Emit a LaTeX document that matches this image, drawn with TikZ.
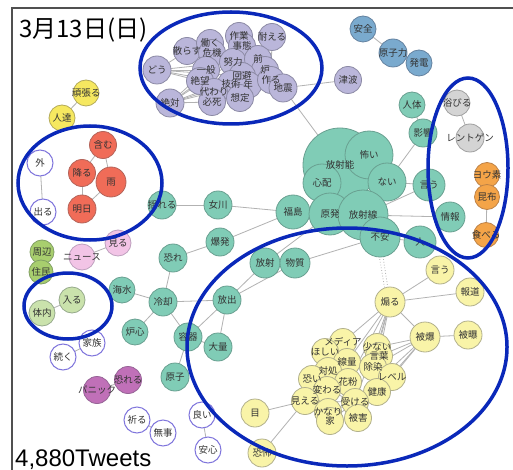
\documentclass[tikz,border=0pt]{standalone}
\usepackage{fontspec}
\setmainfont{Noto Sans CJK JP}
\newfontfamily\latinfont{Liberation Sans}
\pgfdeclarelayer{back}\pgfdeclarelayer{bg}\pgfdeclarelayer{lab}\pgfdeclarelayer{front}
\pgfsetlayers{back,bg,main,lab,front}
\definecolor{lavF}{RGB}{186,182,218}\definecolor{lavD}{RGB}{140,138,165}
\definecolor{tealF}{RGB}{128,204,182}\definecolor{tealD}{RGB}{105,160,145}
\definecolor{bluF}{RGB}{122,170,206}\definecolor{bluD}{RGB}{100,130,160}
\definecolor{grayF}{RGB}{212,212,212}\definecolor{grayD}{RGB}{160,160,160}
\definecolor{orF}{RGB}{244,164,72}\definecolor{orD}{RGB}{190,130,70}
\definecolor{yelF}{RGB}{246,232,96}\definecolor{yelD}{RGB}{180,170,90}
\definecolor{redF}{RGB}{240,108,88}\definecolor{redD}{RGB}{180,100,90}
\definecolor{whD}{RGB}{128,118,220}
\definecolor{pinkF}{RGB}{242,196,230}\definecolor{pinkD}{RGB}{190,160,190}
\definecolor{grnF}{RGB}{168,206,110}\definecolor{grnD}{RGB}{130,160,100}
\definecolor{lgrF}{RGB}{202,226,172}\definecolor{lgrD}{RGB}{150,170,140}
\definecolor{magF}{RGB}{192,112,184}\definecolor{magD}{RGB}{150,100,150}
\definecolor{crF}{RGB}{249,244,168}\definecolor{crD}{RGB}{178,176,140}
\definecolor{edgeC}{RGB}{178,178,178}
\definecolor{ringC}{RGB}{10,40,185}
\definecolor{frameC}{RGB}{80,80,80}
\tikzset{
  base/.style={circle, inner sep=0pt, line width=0.8pt},
  sLav/.style={base, fill=lavF, draw=lavD},
  sTeal/.style={base, fill=tealF, draw=tealD},
  sBlu/.style={base, fill=bluF, draw=bluD},
  sGray/.style={base, fill=grayF, draw=grayD},
  sOr/.style={base, fill=orF, draw=orD},
  sYel/.style={base, fill=yelF, draw=yelD},
  sRed/.style={base, fill=redF, draw=redD},
  sWh/.style={base, fill=white, draw=whD, line width=1pt},
  sPink/.style={base, fill=pinkF, draw=pinkD},
  sGrn/.style={base, fill=grnF, draw=grnD},
  sLgr/.style={base, fill=lgrF, draw=lgrD},
  sMag/.style={base, fill=magF, draw=magD},
  sCr/.style={base, fill=crF, draw=crD},
  lbl/.style={inner sep=0pt, text=black!80, font=\fontsize{9.5}{9.5}\selectfont},
  edge/.style={draw=edgeC, line width=0.8pt},
  dotedge/.style={draw=edgeC, line width=0.8pt, dotted},
  ring/.style={draw=ringC, line width=3.5pt},
}
\newcommand\mynode[5]{%
  \node[#1, minimum size=#4pt] (#2) at (#3) {};
  \begin{pgfonlayer}{lab}\node[lbl] at (#2.center) {#5};\end{pgfonlayer}%
}
\begin{document}
\begin{tikzpicture}[x=1pt,y=-1pt]
\useasboundingbox (0,0) rectangle (513,470);
\begin{pgfonlayer}{back}
\fill[white] (0,0) rectangle (513,470);
\draw[frameC, line width=1.3pt] (12,8) rectangle (540,500);
\end{pgfonlayer}
\node[anchor=base west, inner sep=0pt, font=\fontsize{24}{24}\selectfont] (title) at (19,38) {3月13日(日)};
\node[anchor=base west, inner sep=0pt, font=\latinfont\fontsize{24}{24}\selectfont] (tweets) at (15,466) {4,880Tweets};
% lavender cluster
\mynode{sLav}{p7}{157,70}{28}{どう}
\mynode{sLav}{p21}{170,103}{28}{絶対}
\mynode{sLav}{p1}{187,51}{27}{散らす}
\mynode{sLav}{p2}{210,43}{27}{働く}
\mynode{sLav}{p3}{212,53}{27}{危機}
\mynode{sLav}{p4}{239,36}{27}{作業}
\mynode{sLav}{p5}{242,46}{27}{事態}
\mynode{sLav}{p6}{272,37}{27}{耐える}
\mynode{sLav}{p8}{206,70}{27}{一般}
\mynode{sLav}{p9}{233,62}{27}{努力}
\mynode{sLav}{p10}{258,59}{27}{前}
\mynode{sLav}{p11}{265,70}{27}{炉}
\mynode{sLav}{p12}{242,76}{27}{回避}
\mynode{sLav}{p13}{200,81}{27}{絶望}
\mynode{sLav}{p14}{231,84}{27}{技術}
\mynode{sLav}{p15}{248,85}{27}{年}
\mynode{sLav}{p16}{271,80}{27}{作る}
\mynode{sLav}{p17}{283,88}{28}{地震}
\mynode{sLav}{p18}{214,92}{27}{代わり}
\mynode{sLav}{p19}{212,102}{27}{必死}
\mynode{sLav}{p20}{240,98}{27}{想定}
\mynode{sLav}{p22}{348,80}{27}{津波}
% teal
\mynode{sTeal}{t1}{340,165}{74}{放射能}
\mynode{sTeal}{t2}{369,155}{48}{怖い}
\mynode{sTeal}{t3}{322,183}{38}{心配}
\mynode{sTeal}{t4}{387,182}{38}{ない}
\mynode{sTeal}{t5}{293,212}{34}{福島}
\mynode{sTeal}{t6}{330,214}{42}{原発}
\mynode{sTeal}{t7}{363,215}{50}{放射線}
\mynode{sTeal}{t8}{380,237}{40}{不安}
\mynode{sTeal}{t9}{423,133}{28}{影響}
\mynode{sTeal}{t10}{412,105}{26}{人体}
\mynode{sTeal}{t11}{429,185}{32}{言う}
\mynode{sTeal}{t12}{450,217}{30}{情報}
\mynode{sTeal}{t13}{420,242}{32}{人}
\mynode{sTeal}{t14}{162,205}{28}{揺れる}
\mynode{sTeal}{t15}{218,205}{28}{女川}
\mynode{sTeal}{t16}{220,242}{28}{爆発}
\mynode{sTeal}{t17}{173,258}{28}{恐れ}
\mynode{sTeal}{t18}{122,290}{26}{海水}
\mynode{sTeal}{t19}{163,302}{28}{冷却}
\mynode{sTeal}{t20}{135,332}{26}{炉心}
\mynode{sTeal}{t21}{265,263}{30}{放射}
\mynode{sTeal}{t22}{295,263}{30}{物質}
\mynode{sTeal}{t23}{227,300}{28}{放出}
\mynode{sTeal}{t24}{188,337}{28}{容器}
\mynode{sTeal}{t25}{218,347}{28}{大量}
\mynode{sTeal}{t26}{175,377}{28}{原子}
% blue
\mynode{sBlu}{b1}{363,29}{26}{安全}
\mynode{sBlu}{b2}{393,53}{28}{原子力}
\mynode{sBlu}{b3}{419,63}{26}{発電}
% gray, orange
\mynode{sGray}{g1}{457,103}{26}{浴びる}
\mynode{sGray}{g2}{470,138}{28}{レントゲン}
\mynode{sOr}{o1}{487,175}{25}{ヨウ素}
\mynode{sOr}{o2}{487,197}{25}{昆布}
\mynode{sOr}{o3}{486,235}{25}{食べる}
% yellow
\mynode{sYel}{y1}{86,93}{26}{頑張る}
\mynode{sYel}{y2}{62,118}{26}{人達}
% red
\mynode{sRed}{r1}{103,145}{27}{含む}
\mynode{sRed}{r2}{82,173}{27}{降る}
\mynode{sRed}{r3}{111,182}{30}{雨}
\mynode{sRed}{r4}{82,209}{28}{明日}
% white
\mynode{sWh}{w1}{40,163}{26}{外}
\mynode{sWh}{w2}{43,212}{26}{出る}
\mynode{sWh}{w3}{92,343}{26}{家族}
\mynode{sWh}{w4}{63,357}{26}{続く}
\mynode{sWh}{w5}{137,420}{26}{祈る}
\mynode{sWh}{w6}{163,433}{26}{無事}
\mynode{sWh}{w7}{202,415}{26}{良い}
\mynode{sWh}{w8}{208,450}{26}{安心}
% pink, green, light green, magenta
\mynode{sPink}{k1}{118,243}{26}{見る}
\mynode{sPink}{k2}{82,257}{26}{ニュース}
\mynode{sGrn}{n1}{42,252}{24}{周辺}
\mynode{sGrn}{n2}{41,272}{24}{住民}
\mynode{sLgr}{l1}{72,300}{26}{入る}
\mynode{sLgr}{l2}{42,313}{26}{体内}
\mynode{sMag}{m1}{128,380}{27}{恐れる}
\mynode{sMag}{m2}{97,390}{27}{パニック}
% cream
\mynode{sCr}{c1}{440,270}{28}{言う}
\mynode{sCr}{c2}{470,292}{28}{報道}
\mynode{sCr}{c3}{390,302}{30}{煽る}
\mynode{sCr}{c4}{425,337}{30}{被爆}
\mynode{sCr}{c5}{468,335}{28}{被曝}
\mynode{sCr}{c6}{343,342}{27}{メディア}
\mynode{sCr}{c7}{325,352}{27}{ほしい}
\mynode{sCr}{c8}{377,347}{27}{少ない}
\mynode{sCr}{c9}{379,356}{27}{言葉}
\mynode{sCr}{c10}{347,362}{27}{線量}
\mynode{sCr}{c11}{373,367}{27}{除染}
\mynode{sCr}{c12}{328,371}{27}{対処}
\mynode{sCr}{c13}{312,379}{27}{恐い}
\mynode{sCr}{c14}{392,377}{27}{レベル}
\mynode{sCr}{c15}{348,382}{27}{花粉}
\mynode{sCr}{c16}{327,390}{27}{変わる}
\mynode{sCr}{c17}{377,392}{27}{健康}
\mynode{sCr}{c18}{305,401}{27}{見える}
\mynode{sCr}{c19}{355,402}{27}{受ける}
\mynode{sCr}{c20}{328,412}{27}{かなり}
\mynode{sCr}{c21}{330,421}{27}{家}
\mynode{sCr}{c22}{358,418}{27}{被害}
\mynode{sCr}{c23}{255,413}{28}{目}
\mynode{sCr}{c24}{262,453}{28}{恐怖}
% edges
\begin{pgfonlayer}{bg}
\foreach \a/\b in {p7/p1,p7/p8,p7/p13,p7/p9,p7/p14,p7/p12,p21/p8,p21/p13,p21/p18,p21/p19,p21/p14,p21/p12,p21/p9,p1/p8,p2/p9,p4/p9,p6/p10,p6/p16,p10/p16,p8/p20,
  p17/p22,p17/t1,
  t14/t15,t15/t5,t5/t16,t16/t17,t17/t19,t18/t19,t19/t20,t19/t23,t19/t24,t23/t24,t23/t25,t24/t25,t24/t26,t23/t21,t23/t22,t21/t22,t21/t6,t22/t8,t6/t5,t4/t9,t9/t10,t4/t11,t7/t11,t7/t12,t8/t13,
  b1/b2,b2/b3,g1/g2,o1/o2,o2/o3,y1/y2,r1/r2,r1/r3,r2/r4,r4/r3,w1/w2,w3/w4,w5/w6,w7/w8,k1/k2,n1/n2,l1/l2,m1/m2,
  c3/c1,c3/c2,c3/c4,c4/c5,c3/c6,c3/c8,c3/c9,c3/c11,c3/c10,c3/c15,c3/c19,c4/c8,c4/c9,c4/c11,c4/c14,c4/c17,c4/c19,c18/c23,c18/c24,c15/c19,c19/c16,c19/c18,c19/c20,c19/c21,c12/c19,c15/c16}
  \draw[edge] (\a.center) -- (\b.center);
\draw[dotedge] (t8.center) -- (c3.center);
\draw[dotedge] ([xshift=-4pt]t8.center) -- ([xshift=-3pt]c3.center);
\end{pgfonlayer}
% rings
\begin{pgfonlayer}{front}
\draw[ring] (231,68) ellipse [x radius=91, y radius=56];
\draw[ring] (90,183) ellipse [x radius=72, y radius=57];
\draw[ring] (68,306) ellipse [x radius=44, y radius=33];
\draw[ring] (468,168) ellipse [x radius=40, y radius=90];
\draw[ring] (347,347) ellipse [x radius=160, y radius=119];
\end{pgfonlayer}
\end{tikzpicture}
\end{document}
